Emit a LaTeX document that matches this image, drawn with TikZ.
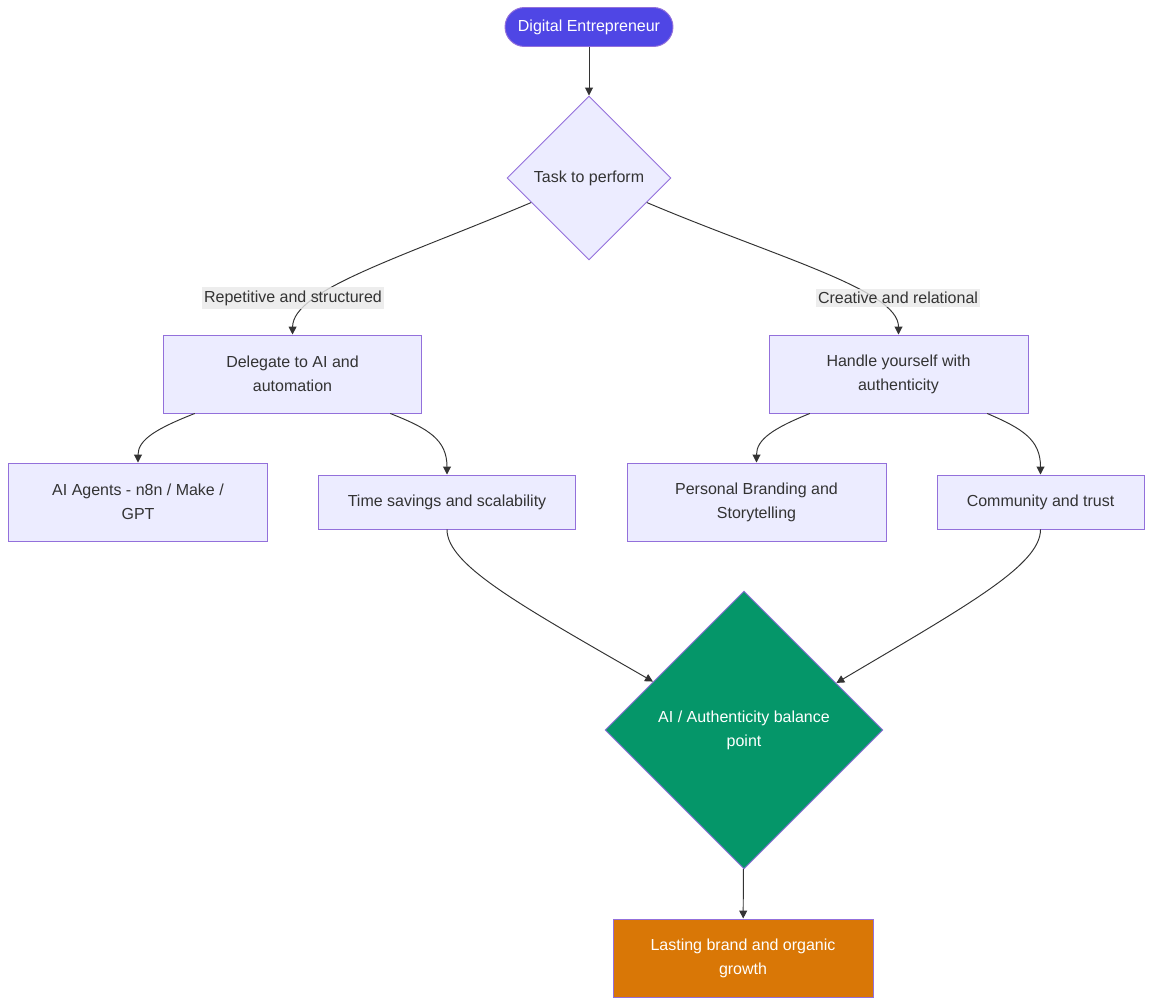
\documentclass[tikz,border=0pt]{standalone}
\usepackage{fontspec}
\setmainfont{Liberation Sans}
\usetikzlibrary{shapes.geometric, arrows.meta}
\definecolor{boxfill}{HTML}{ECECFF}
\definecolor{boxline}{HTML}{9370DB}
\definecolor{ink}{HTML}{333333}
\definecolor{startfill}{HTML}{4F46E5}
\definecolor{balfill}{HTML}{059669}
\definecolor{endfill}{HTML}{D97706}
\definecolor{labfill}{HTML}{E8E8E8}

\begin{document}
\begin{tikzpicture}[x=0.02cm, y=-0.02cm,
	every node/.style={font=\fontsize{9.1}{13.6}\selectfont, text=ink, align=center},
	start/.style={draw=boxline, fill=startfill, text=white, line width=0.55pt, rounded corners=0.39cm, minimum width=3.36cm, minimum height=0.78cm, inner sep=0pt},
	box/.style={draw=boxline, fill=boxfill, line width=0.55pt, minimum width=5.18cm, minimum height=1.56cm, inner sep=0pt},
	choice/.style={diamond, aspect=1, draw=boxline, fill=boxfill, line width=0.55pt, minimum width=3.28cm, minimum height=3.28cm, inner sep=0pt},
	edgelabel/.style={fill=labfill, fill opacity=0.8, text opacity=1, inner xsep=1pt, inner ysep=2pt},
	arr/.style={draw=ink, line width=0.55pt, -{Triangle[length=4.5pt, width=4.5pt]}}]
	\useasboundingbox (0,0) rectangle (1153,1006);

	\node[start] (start) at (589,27) {Digital Entrepreneur};
	\node[choice] (task) at (589,178) {Task to perform};
	\node[box] (deleg) at (292.5,374) {Delegate to AI and\\automation};
	\node[box] (self) at (898.5,374) {Handle yourself with\\authenticity};
	\node[box] (agents) at (138,502) {AI Agents - n8n / Make /\\GPT};
	\node[box, minimum width=5.16cm, minimum height=1.08cm] (savings) at (447,502) {Time savings and scalability};
	\node[box] (branding) at (756.5,502) {Personal Branding and\\Storytelling};
	\node[box, minimum width=4.14cm, minimum height=1.08cm] (trust) at (1040.5,502) {Community and trust};
	\node[choice, fill=balfill, text=white, minimum width=5.56cm, minimum height=5.56cm] (balance) at (744,730) {AI / Authenticity balance\\point};
	\node[box, fill=endfill, text=white, minimum width=5.2cm] (growth) at (743,958) {Lasting brand and organic\\growth};

	\draw[arr] (start) -- (task);
	\draw[arr] (task.203) .. controls (400,258) and (293,290) .. (deleg.north);
	\draw[arr] (task.337) .. controls (778,258) and (898.5,290) .. (self.north);
	\draw[arr] (deleg.202) .. controls +(-38,15) and +(0,-23) .. (agents.north);
	\draw[arr] (deleg.338) .. controls +(38,15) and +(0,-35) .. (savings.north);
	\draw[arr] (self.204) .. controls +(-37,15) and +(0,-23) .. (branding.north);
	\draw[arr] (self.336) .. controls +(35,15) and +(0,-35) .. (trust.north);
	\draw[arr] (savings.south) .. controls (447,565) and (520,605) .. (balance.152.5);
	\draw[arr] (trust.south) .. controls (1040.5,565) and (968,605) .. (balance.27.5);
	\draw[arr] (balance) -- (growth);

	\node[edgelabel] (repet) at (293,298) {Repetitive and structured};
	\node[edgelabel] (creat) at (898,298) {Creative and relational};
\end{tikzpicture}
\end{document}
